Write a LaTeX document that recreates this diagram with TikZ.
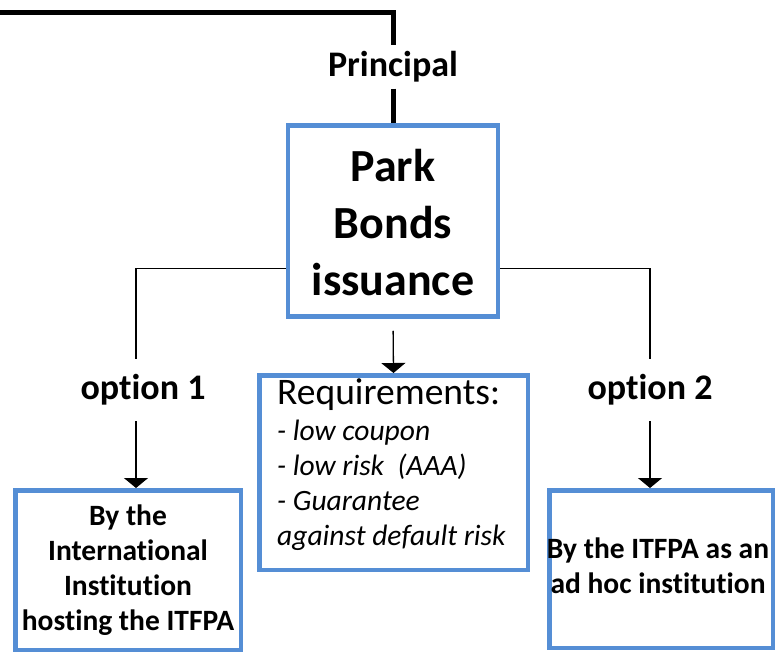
\documentclass[tikz,border=0pt]{standalone}
\usepackage{fontspec}
\setmainfont{Carlito}[Ligatures=NoCommon]
\usetikzlibrary{arrows.meta,calc}
\definecolor{boxblue}{RGB}{85,142,213}

\begin{document}
\begin{tikzpicture}[x=1pt,y=-1pt,
  box/.style={draw=boxblue, line width=4.5pt, inner sep=0pt, align=center},
  lbl/.style={inner sep=0pt, font=\bfseries\fontsize{36}{40}\selectfont},
  boxtext/.style={font=\bfseries\fontsize{29.5}{35}\selectfont},
  link/.style={line width=1.3pt},
  arrowlink/.style={line width=1.3pt, -{Triangle[width=24pt,length=10pt]}}
]
\useasboundingbox (0,0) rectangle (778,656);

% central issuance box
\node[box, minimum width=210pt, minimum height=191pt,
      font=\bfseries\fontsize{46}{57}\selectfont] (main) at (393,221)
  {\rule{0pt}{36pt}Park\\Bonds\\issuance};

% labels on the connectors
\node[lbl, minimum height=43pt] (principal) at (393,67) {Principal};
\node[lbl, minimum height=62pt] (opt1) at (143,390) {option 1};
\node[lbl, minimum height=62pt] (opt2) at (650,390) {option 2};

% requirements box, its list set from the top left corner
\node[box, minimum width=268.5pt, minimum height=194.5pt] (req) at (393.5,472.5) {};
\node[anchor=north west, inner sep=0pt, align=left,
      font=\fontsize{29.5}{35}\selectfont]
  (reqtext) at ([xshift=20pt, yshift=-5pt]req.north west)
  {{\fontsize{37.5}{39}\selectfont Requirements:}\\[1pt]
   \itshape - low coupon\\
   \itshape - low risk~~(AAA)\\
   \itshape - Guarantee\\
   \itshape against default risk};

% the two issuing options
\node[box, minimum width=225.5pt, minimum height=159.5pt, boxtext] (box1) at (128,570)
  {By the\\International\\Institution\\hosting the ITFPA};
\node[box, minimum width=223.5pt, minimum height=157.5pt] (box2) at (661,569) {};
\node[inner sep=0pt, align=center, boxtext] (box2text)
  at ([xshift=-3pt, yshift=3pt]box2.center)
  {By the ITFPA as an\\ad hoc institution};

% principal flow from the left
\coordinate (start) at (0,12);
\draw[line width=5pt] (start) -| (principal.north);
\draw[line width=5pt] (principal.south) -- (main.north);

% branches
\coordinate (mainL) at ($(main.south west)+(0,-50)$);
\coordinate (mainR) at ($(main.south east)+(0,-50)$);
\draw[link] (mainL) -| ([xshift=-7pt]opt1.north);
\draw[link] (mainR) -| (opt2.north);
\draw[arrowlink, shorten <=12pt] (main.south) -- (req.north);
\draw[arrowlink] ([xshift=-7pt]opt1.south) -- ([xshift=-7pt]opt1.south |- box1.north);
\draw[arrowlink] (opt2.south) -- (opt2.south |- box2.north);
\end{tikzpicture}
\end{document}
